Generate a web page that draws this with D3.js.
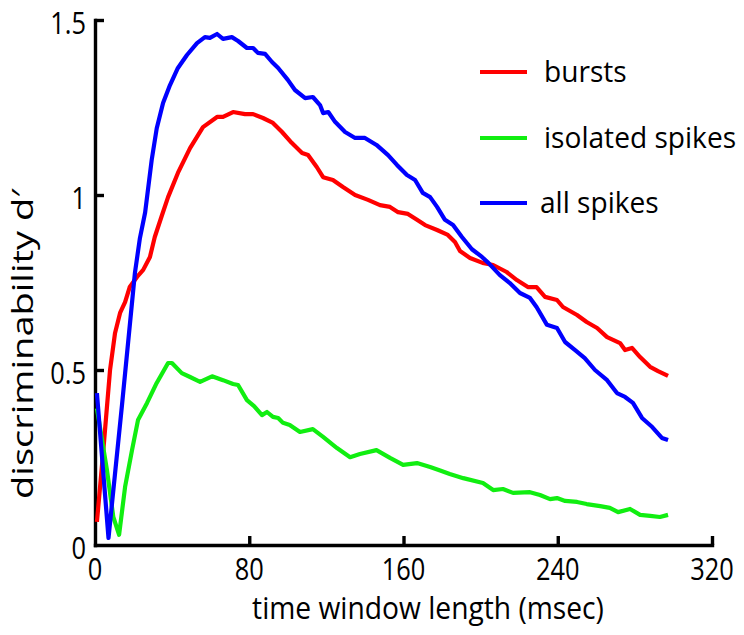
<!DOCTYPE html>
<html>
<head>
<meta charset="utf-8">
<script src="https://cdn.jsdelivr.net/npm/d3@7"></script>
<style>
  html, body { margin: 0; padding: 0; background: #fff; }
  svg { display: block; }
  text { font-family: "Open Sans", "Noto Sans", sans-serif; fill: #000; }
</style>
</head>
<body>
<svg id="chart" width="744" height="635"></svg>
<script>
// ---- data ----
const xTicks = [0, 80, 160, 240, 320];
const yTicks = [0, 0.5, 1, 1.5];
const yTickLabels = ["0", "0.5", "1", "1.5"];
const seriesNames = ["bursts", "isolated spikes", "all spikes"];
const seriesColors = ["#ff0000", "#11ee11", "#0000ff"];

const burstsT = [1,4.2,7.8,10.4,13,15.6,18,21.8,25,28.5,31,34.6,37.9,43,49.3,56,63.3,66.4,71.6,77.8,82,87.1,92.3,97,102,107.4,110.5,115,118.3,123.4,128.6,134.9,141.6,147.8,153,157.2,162.3,167,171.2,177.4,183,186.7,189.3,194.5,201,206.5,213.5,218.8,224.5,229,233.4,239.6,242.7,250,255,260.4,265.6,272.3,274.9,278.5,282.7,287.9,292,297.2];
const burstsD = [0.066,0.263,0.5,0.606,0.663,0.694,0.737,0.766,0.786,0.823,0.88,0.94,0.994,1.063,1.134,1.194,1.223,1.223,1.237,1.231,1.231,1.22,1.206,1.18,1.149,1.12,1.114,1.08,1.051,1.043,1.023,1.0,0.986,0.971,0.966,0.951,0.946,0.929,0.914,0.9,0.886,0.866,0.84,0.82,0.806,0.8,0.78,0.757,0.737,0.737,0.709,0.7,0.68,0.657,0.637,0.62,0.594,0.577,0.557,0.563,0.537,0.509,0.497,0.483];

const isolatedT = [1,6.2,9.5,12.5,15.6,19.2,22.3,27,32,37.9,39.9,45,49.3,54.5,60.7,66.4,71.6,74.2,78.8,82.5,86.6,89.2,92.3,95,97.5,101,106.3,113,118.3,125.5,132.3,137.4,146,153,159.8,167,173.8,179,184,191,201.2,206.5,211.6,216.8,225.6,230.8,236,239.6,243.8,250,255,262,267,271.3,277.5,282.7,287.9,293,297.2];
const isolatedD = [0.39,0.214,0.08,0.029,0.166,0.271,0.357,0.406,0.463,0.52,0.52,0.491,0.48,0.466,0.482,0.471,0.46,0.457,0.414,0.397,0.371,0.38,0.366,0.363,0.349,0.343,0.323,0.331,0.309,0.277,0.251,0.26,0.271,0.249,0.229,0.234,0.223,0.213,0.203,0.191,0.177,0.157,0.16,0.149,0.151,0.143,0.131,0.134,0.126,0.123,0.117,0.111,0.106,0.094,0.103,0.086,0.083,0.08,0.086];

const allT = [1,7,14,20.7,23.3,26,29.4,32,35.3,38.9,43,47.7,52.9,57,59.6,63.3,66.4,71,74.2,78.8,82,84.5,88.2,91.8,95,100,103.7,109,113,116.7,118.3,121,124.5,129.7,134.9,140,146,152,156.6,161.8,166,170,173.8,177.4,181.5,185.7,190.3,195.5,200.7,204,210,215,220.4,225.6,229,234.4,239.6,243.8,249,254,259.3,265.6,270.7,274.9,279,283.7,289,294,297.2];
const allD = [0.434,0.02,0.40,0.777,0.877,0.95,1.1,1.19,1.263,1.314,1.363,1.4,1.434,1.451,1.449,1.46,1.446,1.451,1.44,1.42,1.42,1.406,1.403,1.38,1.363,1.329,1.3,1.277,1.28,1.257,1.234,1.237,1.209,1.18,1.163,1.163,1.143,1.114,1.086,1.057,1.043,1.006,0.994,0.966,0.929,0.914,0.88,0.845,0.823,0.806,0.771,0.749,0.72,0.706,0.68,0.629,0.62,0.58,0.557,0.534,0.5,0.471,0.434,0.423,0.406,0.363,0.337,0.306,0.3];

const series = [
  { t: burstsT, d: burstsD },
  { t: isolatedT, d: isolatedD },
  { t: allT, d: allD }
];

// ---- layout ----
const svg = d3.select("#chart");
const x = d3.scaleLinear().domain([0, 320]).range([95, 712]);
const y = d3.scaleLinear().domain([0, 1.5]).range([545, 20]);

// axes
const axW = 3.4;
const gx = svg.append("g").attr("transform", "translate(0,545)")
  .call(d3.axisBottom(x).tickValues(xTicks).tickSizeInner(-9).tickSizeOuter(0).tickPadding(0).tickFormat(d3.format("d")));
const gy = svg.append("g").attr("transform", "translate(95,0)")
  .call(d3.axisLeft(y).tickValues(yTicks).tickSizeInner(-9).tickSizeOuter(0).tickPadding(0).tickFormat((d, i) => yTickLabels[i]));

[gx, gy].forEach(g => {
  g.select(".domain").attr("stroke", "#000").attr("stroke-width", axW).attr("stroke-linecap", "square");
  g.selectAll(".tick line").attr("stroke", "#000").attr("stroke-width", axW);
  g.selectAll(".tick text").remove();
});
gx.selectAll(".tick").filter(d => d === 0).select("line").remove();
gy.selectAll(".tick").filter(d => d === 0).select("line").remove();

const tickFont = 31, tickSX = 0.82;
// x tick labels
svg.append("g").selectAll("text").data(xTicks).join("text")
  .attr("transform", d => `translate(${x(d)},580) scale(${tickSX},1)`)
  .attr("text-anchor", "middle")
  .attr("font-size", tickFont)
  .text(d => d);
// y tick labels
svg.append("g").selectAll("text").data(yTicks).join("text")
  .attr("transform", d => `translate(86,${y(d) + 14}) scale(${tickSX},1)`)
  .attr("text-anchor", "end")
  .attr("font-size", tickFont)
  .text((d, i) => yTickLabels[i]);

// axis titles
svg.append("text")
  .attr("transform", "translate(428,619) scale(0.91,1)")
  .attr("text-anchor", "middle")
  .attr("font-size", 31)
  .text("time window length (msec)");
svg.append("text")
  .attr("transform", "translate(33,344) rotate(-90) scale(1,0.75)")
  .attr("text-anchor", "middle")
  .attr("font-size", 38)
  .text("discriminability d\u2032");

// lines
const line = d3.line().x(p => x(p[0])).y(p => y(p[1]));
series.forEach((s, i) => {
  const pts = s.t.map((t, k) => [t, s.d[k]]);
  svg.append("path")
    .datum(pts)
    .attr("fill", "none")
    .attr("stroke", seriesColors[i])
    .attr("stroke-width", 4.2)
    .attr("stroke-linejoin", "round")
    .attr("stroke-linecap", "butt")
    .attr("d", line);
});

// legend
const legendY = [72, 138, 203];
const leg = svg.append("g");
seriesNames.forEach((name, i) => {
  leg.append("line")
    .attr("x1", 480).attr("x2", 527)
    .attr("y1", legendY[i]).attr("y2", legendY[i])
    .attr("stroke", seriesColors[i]).attr("stroke-width", 4);
  leg.append("text")
    .attr("transform", `translate(${i === 2 ? 540 : 544},${legendY[i] + 9.5}) scale(0.97,1)`)
    .attr("font-size", 29)
    .text(name);
});
</script>
</body>
</html>
